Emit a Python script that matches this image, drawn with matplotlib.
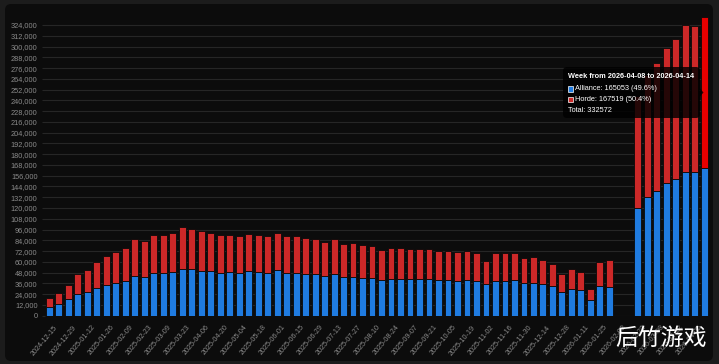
import numpy as np
import matplotlib
matplotlib.use('Agg')
import matplotlib.pyplot as plt
from matplotlib.patches import FancyBboxPatch, Polygon, Rectangle
from matplotlib.ticker import FuncFormatter, MultipleLocator
from matplotlib.transforms import ScaledTranslation

# weekly active characters (thousands), None = no data that week
alliance = [10.0, 13.4, 18.3, 23.8, 26.4, 31.2, 34.6, 36.8, 39.0, 44.6,
            43.5, 47.2, 47.2, 48.3, 52.4, 51.7, 50.2, 49.8, 47.6, 48.7,
            47.6, 49.5, 49.0, 47.6, 50.6, 48.0, 48.0, 46.9, 46.9, 44.2,
            46.9, 43.1, 43.1, 42.4, 42.0, 39.8, 40.9, 40.9, 40.9, 40.9,
            40.9, 39.8, 39.8, 39.0, 39.8, 39.0, 35.0, 38.8, 38.8, 39.6,
            36.0, 37.0, 35.5, 32.7, 26.5, 29.8, 28.3, 17.2, 32.8, 32.3,
            None, None, 119.7, 132.6, 139.0, 147.6, 152.7, 160.5, 159.8, 165.053]
horde = [9.4, 11.6, 16.3, 22.3, 24.9, 28.7, 31.6, 34.5, 36.5, 40.5,
         39.4, 42.7, 42.7, 43.5, 46.8, 45.3, 44.2, 42.4, 42.0, 41.6,
         41.2, 41.6, 41.3, 41.2, 41.2, 40.8, 40.8, 40.1, 39.0, 37.9,
         38.6, 36.8, 37.9, 36.4, 35.3, 33.8, 34.6, 34.2, 33.8, 33.4,
         33.8, 32.3, 31.9, 32.3, 31.9, 31.2, 26.5, 30.7, 30.7, 30.8,
         28.6, 28.8, 26.9, 25.1, 20.3, 21.9, 20.7, 12.6, 27.1, 29.8,
         None, None, 125.3, 135.4, 143.0, 151.1, 155.7, 163.2, 163.1, 167.519]
week_labels = ['2024-12-15', '2024-12-29', '2025-01-12', '2025-01-26', '2025-02-09',
               '2025-02-23', '2025-03-09', '2025-03-23', '2025-04-06', '2025-04-20',
               '2025-05-04', '2025-05-18', '2025-06-01', '2025-06-15', '2025-06-29',
               '2025-07-13', '2025-07-27', '2025-08-10', '2025-08-24', '2025-09-07',
               '2025-09-21', '2025-10-05', '2025-10-19', '2025-11-02', '2025-11-16',
               '2025-11-30', '2025-12-14', '2025-12-28', '2026-01-11', '2026-01-25',
               '2026-02-08', '2026-02-22', '2026-03-08', '2026-03-22', '2026-04-05']

plt.rcParams['font.family'] = ['Liberation Sans', 'DejaVu Sans']

W, H = 719, 364
fig = plt.figure(figsize=(W / 100, H / 100), dpi=100, facecolor='#1c1c1c')


def px(x, y):
    # pixel (top-left origin) -> inches for dpi_scale_trans
    return x / 100, (H - y) / 100


# rounded dark panel
x0, y0 = px(5, 361)
panel = FancyBboxPatch((x0, y0), 708 / 100, 357 / 100, boxstyle='round,pad=0,rounding_size=0.06',
                       transform=fig.dpi_scale_trans, facecolor='#0c0c0c', edgecolor='none', zorder=-10)
fig.patches.append(panel)

ax = fig.add_axes([44.6 / W, (H - 315.7) / H, (709 - 44.6) / W, (315.7 - 17.3) / H])
ax.set_facecolor('none')

a = np.array([np.nan if v is None else v * 1000 for v in alliance])
h = np.array([np.nan if v is None else v * 1000 for v in horde])
x = np.arange(len(a))

blue = '#1f7be0'
red = '#cc2828'
red_hover = '#e60000'
red_colors = [red] * len(x)
red_colors[-1] = red_hover

ax.bar(x, a, width=0.72, color=blue, edgecolor='#0a0a0a', linewidth=0.6, zorder=3)
ax.bar(x, h, bottom=a, width=0.72, color=red_colors, edgecolor='#0a0a0a', linewidth=0.6, zorder=3)

ax.set_xlim(-0.5, len(x) - 0.5)
ax.set_ylim(0, np.nanmax(a + h))
ax.yaxis.set_major_locator(MultipleLocator(12000))
ax.yaxis.set_major_formatter(FuncFormatter(lambda v, p: f'{int(v):,}'))
ax.grid(axis='y', color='#262626', linewidth=0.8, zorder=0)
ax.tick_params(axis='y', length=2.5, width=0.8, color='#262626', pad=2.5,
               labelsize=5.3, labelcolor='#8a8a8a')

ax.set_xticks(x[::2])
ax.set_xticklabels(week_labels, rotation=50, ha='right', va='center', rotation_mode='anchor')
ax.tick_params(axis='x', length=0, pad=7.5, labelsize=5.2, labelcolor='#8a8a8a')
for lab in ax.get_xticklabels():
    lab.set_transform(lab.get_transform() + ScaledTranslation(5 / 72, 0, fig.dpi_scale_trans))

for s in ax.spines.values():
    s.set_visible(False)

# tooltip for the hovered week
tx, ty = px(563, 118)
tip = FancyBboxPatch((tx, ty), 137 / 100, 51 / 100, boxstyle='round,pad=0,rounding_size=0.04',
                     transform=fig.dpi_scale_trans, facecolor=(0, 0, 0, 0.82), edgecolor='none', zorder=10)
fig.patches.append(tip)
caret = Polygon([px(700, 88.5), px(703.5, 92.5), px(700, 96.5)], closed=True,
                transform=fig.dpi_scale_trans, facecolor=(0, 0, 0, 0.82), edgecolor='none', zorder=10)
fig.patches.append(caret)

last_a, last_h = alliance[-1] * 1000, horde[-1] * 1000
total = last_a + last_h
fig.text(*px(568, 76), 'Week from 2026-04-08 to 2026-04-14', transform=fig.dpi_scale_trans,
         color='white', fontsize=5.3, fontweight='bold', va='center', ha='left', zorder=11)
lines = [(f'Alliance: {last_a:.0f} ({last_a / total * 100:.1f}%)', blue),
         (f'Horde: {last_h:.0f} ({last_h / total * 100:.1f}%)', red)]
for i, (txt, col) in enumerate(lines):
    yy = 89 + i * 10.5
    fig.patches.append(Rectangle(px(568, yy + 2.6), 5.2 / 100, 5.2 / 100, transform=fig.dpi_scale_trans,
                                 facecolor=col, edgecolor='white', linewidth=0.5, zorder=11))
    fig.text(*px(575, yy), txt, transform=fig.dpi_scale_trans, color='white', fontsize=5.3,
             va='center', ha='left', zorder=11)
fig.text(*px(568, 110), f'Total: {total:.0f}', transform=fig.dpi_scale_trans, color='white',
         fontsize=5.3, va='center', ha='left', zorder=11)

# watermark
fig.text(*px(661, 338), '后竹游戏', transform=fig.dpi_scale_trans, color='white', fontsize=16.5,
         family=['Noto Sans CJK SC', 'DejaVu Sans'], fontweight='medium', ha='center', va='center', zorder=12)

fig.savefig('out.png', dpi=100, facecolor=fig.get_facecolor())
